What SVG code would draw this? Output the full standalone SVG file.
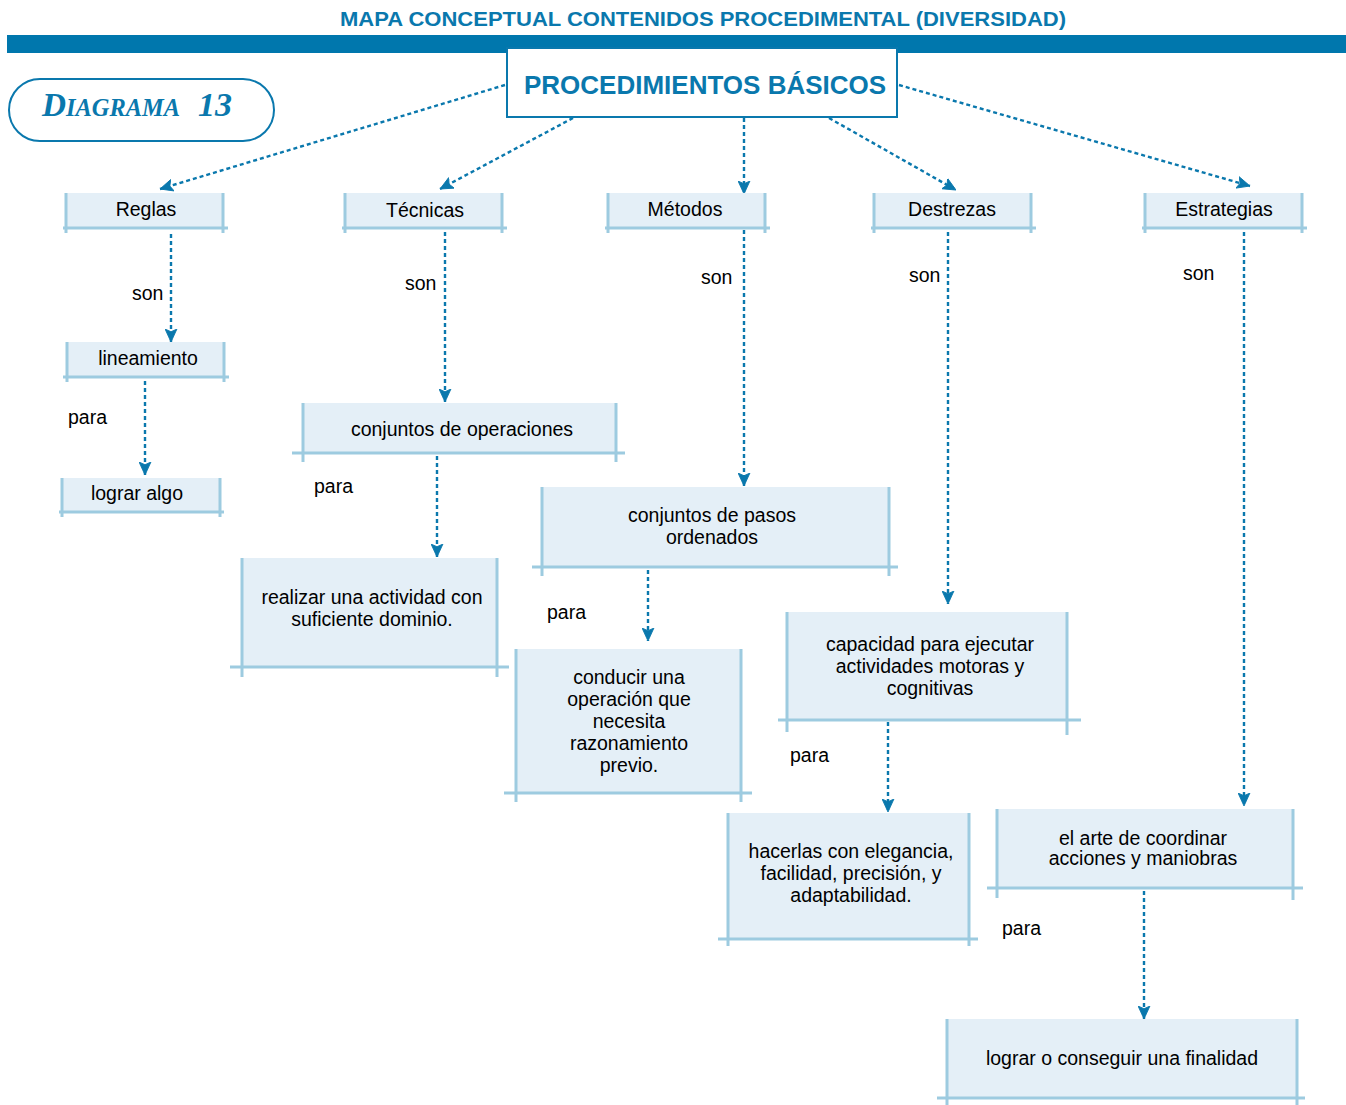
<svg xmlns="http://www.w3.org/2000/svg" width="1346" height="1105" viewBox="0 0 1346 1105">
<style>
.bg{fill:#e4eff7}
.bd{stroke:#9dcbe0;stroke-width:3;fill:none}
.t{font-family:"Liberation Sans",Arial,sans-serif;font-size:19.5px;fill:#000;text-anchor:middle}
.lb{font-family:"Liberation Sans",Arial,sans-serif;font-size:19.5px;fill:#000}
.c{stroke:#0a78ad;stroke-width:2.4;stroke-dasharray:4 3;fill:none;marker-end:url(#ah)}
.dg{font-family:"Liberation Serif","Times New Roman",serif;font-style:italic;font-weight:bold;fill:#0a78ad}
</style>
<defs>
<marker id="ah" viewBox="0 0 12 12" refX="12" refY="6" markerWidth="13" markerHeight="13" markerUnits="userSpaceOnUse" orient="auto">
<path d="M0,0.5 L12,6 L0,11.5 L2.5,6 Z" fill="#0a78ad" stroke="#0a78ad" stroke-width="0.8" stroke-linejoin="miter"/>
</marker>
</defs>
<rect width="1346" height="1105" fill="#fff"/>
<text x="703" y="26" font-family="Liberation Sans,Arial,sans-serif" font-weight="bold" font-size="21" fill="#0a78ad" text-anchor="middle" textLength="726" lengthAdjust="spacingAndGlyphs">MAPA CONCEPTUAL CONTENIDOS PROCEDIMENTAL (DIVERSIDAD)</text>
<rect x="7" y="35" width="1339" height="18" fill="#0077ad"/>
<g id="diagrama">
<rect x="9" y="79" width="265" height="62" rx="31" fill="#fff" stroke="#0a78ad" stroke-width="2"/>
<text class="dg" x="42" y="116" font-size="34" textLength="24" lengthAdjust="spacingAndGlyphs">D</text>
<text class="dg" x="66" y="116" font-size="26" textLength="114" lengthAdjust="spacingAndGlyphs">IAGRAMA</text>
<text class="dg" x="198" y="116" font-size="34" textLength="34" lengthAdjust="spacingAndGlyphs">13</text>
</g>
<g id="connectors">
<line class="c" x1="505" y1="85" x2="160" y2="189"/>
<line class="c" x1="573" y1="118" x2="440" y2="189"/>
<line class="c" x1="744" y1="118" x2="744" y2="194"/>
<line class="c" x1="829" y1="118" x2="956" y2="190"/>
<line class="c" x1="899" y1="85" x2="1250" y2="186"/>
<line class="c" x1="171" y1="234" x2="171" y2="342"/>
<line class="c" x1="145" y1="381" x2="145" y2="475"/>
<line class="c" x1="445" y1="232" x2="445" y2="402"/>
<line class="c" x1="437" y1="456" x2="437" y2="557"/>
<line class="c" x1="744" y1="230" x2="744" y2="486"/>
<line class="c" x1="648" y1="570" x2="648" y2="641"/>
<line class="c" x1="948" y1="232" x2="948" y2="604"/>
<line class="c" x1="888" y1="722" x2="888" y2="812"/>
<line class="c" x1="1244" y1="232" x2="1244" y2="806"/>
<line class="c" x1="1144" y1="891" x2="1144" y2="1019"/>
<text class="lb" x="132" y="300">son</text>
<text class="lb" x="68" y="424">para</text>
<text class="lb" x="405" y="290">son</text>
<text class="lb" x="314" y="493">para</text>
<text class="lb" x="701" y="284">son</text>
<text class="lb" x="547" y="619">para</text>
<text class="lb" x="909" y="282">son</text>
<text class="lb" x="790" y="762">para</text>
<text class="lb" x="1183" y="280">son</text>
<text class="lb" x="1002" y="935">para</text>
</g>
<g id="main">
<rect x="507" y="48" width="390" height="69" fill="#fff" stroke="#0a78ad" stroke-width="2"/>
<text x="524" y="94" font-family="Liberation Sans,Arial,sans-serif" font-weight="bold" font-size="26" fill="#0a78ad">PROCEDIMIENTOS BÁSICOS</text>
</g>
<g id="reglas">
<rect class="bg" x="66" y="193" width="157" height="35"/>
<path class="bd" d="M66,193 V233 M223,193 V233 M63,228 H228"/>
<text class="t" x="146" y="216">Reglas</text>
</g>
<g id="tecnicas">
<rect class="bg" x="345" y="193" width="157" height="35"/>
<path class="bd" d="M345,193 V233 M502,193 V233 M342,228 H507"/>
<text class="t" x="425" y="217">Técnicas</text>
</g>
<g id="metodos">
<rect class="bg" x="608" y="193" width="157" height="35"/>
<path class="bd" d="M608,193 V233 M765,193 V233 M605,228 H770"/>
<text class="t" x="685" y="216">Métodos</text>
</g>
<g id="destrezas">
<rect class="bg" x="874" y="193" width="157" height="35"/>
<path class="bd" d="M874,193 V233 M1031,193 V233 M871,228 H1036"/>
<text class="t" x="952" y="216">Destrezas</text>
</g>
<g id="estrategias">
<rect class="bg" x="1145" y="193" width="157" height="35"/>
<path class="bd" d="M1145,193 V233 M1302,193 V233 M1142,228 H1307"/>
<text class="t" x="1224" y="216">Estrategias</text>
</g>
<g id="lineamiento">
<rect class="bg" x="67" y="342" width="157" height="35"/>
<path class="bd" d="M67,342 V382 M224,342 V382 M63,377 H229"/>
<text class="t" x="148" y="365">lineamiento</text>
</g>
<g id="lograr-algo">
<rect class="bg" x="62" y="478" width="158" height="34"/>
<path class="bd" d="M62,478 V517 M220,478 V517 M59,512 H224"/>
<text class="t" x="137" y="500">lograr algo</text>
</g>
<g id="conjuntos-operaciones">
<rect class="bg" x="303" y="403" width="313" height="50"/>
<path class="bd" d="M303,403 V462 M616,403 V462 M292,453 H625"/>
<text class="t" x="462" y="436">conjuntos de operaciones</text>
</g>
<g id="realizar">
<rect class="bg" x="242" y="558" width="255" height="109"/>
<path class="bd" d="M242,558 V677 M497,558 V677 M230,667 H509"/>
<text class="t" x="372" y="604">realizar una actividad con</text>
<text class="t" x="372" y="626">suficiente dominio.</text>
</g>
<g id="conjuntos-pasos">
<rect class="bg" x="542" y="487" width="347" height="80"/>
<path class="bd" d="M542,487 V576 M889,487 V576 M532,567 H898"/>
<text class="t" x="712" y="522">conjuntos de pasos</text>
<text class="t" x="712" y="544">ordenados</text>
</g>
<g id="conducir">
<rect class="bg" x="516" y="649" width="225" height="144"/>
<path class="bd" d="M516,649 V802 M741,649 V802 M504,793 H752"/>
<text class="t" x="629" y="684">conducir una</text>
<text class="t" x="629" y="706">operación que</text>
<text class="t" x="629" y="728">necesita</text>
<text class="t" x="629" y="750">razonamiento</text>
<text class="t" x="629" y="772">previo.</text>
</g>
<g id="capacidad">
<rect class="bg" x="787" y="612" width="280" height="108"/>
<path class="bd" d="M787,612 V732 M1067,612 V735 M778,720 H1081"/>
<text class="t" x="930" y="651">capacidad para ejecutar</text>
<text class="t" x="930" y="673">actividades motoras y</text>
<text class="t" x="930" y="695">cognitivas</text>
</g>
<g id="hacerlas">
<rect class="bg" x="728" y="813" width="241" height="126"/>
<path class="bd" d="M728,813 V946 M969,813 V946 M718,939 H978"/>
<text class="t" x="851" y="858">hacerlas con elegancia,</text>
<text class="t" x="851" y="880">facilidad, precisión, y</text>
<text class="t" x="851" y="902">adaptabilidad.</text>
</g>
<g id="el-arte">
<rect class="bg" x="997" y="809" width="296" height="79"/>
<path class="bd" d="M997,809 V898 M1293,809 V900 M987,888 H1303"/>
<text class="t" x="1143" y="845">el arte de coordinar</text>
<text class="t" x="1143" y="865">acciones y maniobras</text>
</g>
<g id="lograr-finalidad">
<rect class="bg" x="947" y="1019" width="350" height="79"/>
<path class="bd" d="M947,1019 V1105 M1297,1019 V1105 M937,1098 H1305"/>
<text class="t" x="1122" y="1065">lograr o conseguir una finalidad</text>
</g>
</svg>
